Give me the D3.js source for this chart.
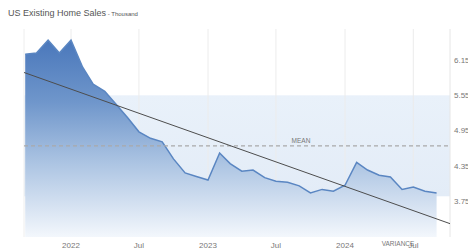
<!DOCTYPE html>
<html>
<head>
<meta charset="utf-8">
<script src="https://cdn.jsdelivr.net/npm/d3@7"></script>
<style>
  body { margin: 0; background: #fff; }
  text { font-family: "Liberation Sans", Arial, sans-serif; }
</style>
</head>
<body>
<div id="chart"></div>
<script>
const width = 468,
      height = 250,
      margin = { top: 29, right: 18, bottom: 13, left: 24 };

// monthly existing home sales (millions, SAAR), Sep 2021 - Sep 2024
const startMonth = '2021-09';
const sales = [
  6.25, 6.27, 6.49, 6.27,
  6.49, 6.03, 5.74, 5.62, 5.40, 5.17, 4.93, 4.82, 4.76, 4.47, 4.23, 4.17,
  4.11, 4.57, 4.39, 4.26, 4.28, 4.15, 4.09, 4.07, 4.01, 3.89, 3.95, 3.92,
  4.02, 4.41, 4.28, 4.19, 4.16, 3.95, 3.99, 3.92, 3.89
];
const yTicks = [3.75, 4.35, 4.95, 5.55, 6.15];
const xTickDates = ['2022-01-01', '2022-07-01', '2023-01-01', '2023-07-01', '2024-01-01', '2024-07-01'];
const xTickLabels = ['2022', 'Jul', '2023', 'Jul', '2024', 'Jul'];

const parse = d3.timeParse('%Y-%m');
const first = parse(startMonth);
const data = sales.map((v, i) => ({ date: d3.timeMonth.offset(first, i), value: v }));

const x = d3.scaleTime()
    .domain([new Date(2022, 0, 1), new Date(2024, 0, 1)])
    .range([71, 345]);
const plotLeft = margin.left, plotRight = width - margin.right;
const plotTop = margin.top, plotBottom = height - margin.bottom;

const y = d3.scaleLinear()
    .domain([3.14, 6.68])
    .range([plotBottom, plotTop]);

const svg = d3.select('#chart').append('svg')
    .attr('width', width)
    .attr('height', height);

const defs = svg.append('defs');
const grad = defs.append('linearGradient')
    .attr('id', 'areaGrad')
    .attr('gradientUnits', 'userSpaceOnUse')
    .attr('x1', 0).attr('x2', 0)
    .attr('y1', plotTop).attr('y2', plotBottom);
grad.append('stop').attr('offset', '0%').attr('stop-color', '#4372b8');
grad.append('stop').attr('offset', '35%').attr('stop-color', '#6f96cb');
grad.append('stop').attr('offset', '65%').attr('stop-color', '#adc5e3');
grad.append('stop').attr('offset', '100%').attr('stop-color', '#f3f7fc');

const bandGrad = defs.append('linearGradient')
    .attr('id', 'bandGrad')
    .attr('x1', 0).attr('x2', 0).attr('y1', 0).attr('y2', 1);
bandGrad.append('stop').attr('offset', '0%').attr('stop-color', '#e9f1fa');
bandGrad.append('stop').attr('offset', '100%').attr('stop-color', '#e3ecf7');

// title
const title = svg.append('text')
    .attr('x', 8).attr('y', 16)
    .attr('fill', '#555')
    .style('font-size', '9px');
title.append('tspan').text('US Existing Home Sales');
title.append('tspan').style('font-size', '6px').text(' - Thousand');

// variance band (mean +/- std)
const mean = d3.mean(sales);
const sd = d3.deviation(sales);
svg.append('rect')
    .attr('x', plotLeft)
    .attr('y', y(mean + sd))
    .attr('width', plotRight - plotLeft)
    .attr('height', y(mean - sd) - y(mean + sd))
    .attr('fill', 'url(#bandGrad)');

// vertical grid
svg.append('g')
    .selectAll('line')
    .data(xTickDates)
    .join('line')
    .attr('x1', d => x(new Date(d))).attr('x2', d => x(new Date(d)))
    .attr('y1', plotTop).attr('y2', plotBottom)
    .attr('stroke', '#ececec')
    .attr('stroke-width', 1);

// plot frame edges
svg.append('line')
    .attr('x1', plotLeft).attr('x2', plotLeft)
    .attr('y1', plotTop).attr('y2', plotBottom)
    .attr('stroke', '#eeeeee');
svg.append('line')
    .attr('x1', plotRight).attr('x2', plotRight)
    .attr('y1', plotTop).attr('y2', plotBottom)
    .attr('stroke', '#e6e6e6');

// area + line
const area = d3.area()
    .x(d => x(d.date))
    .y0(plotBottom)
    .y1(d => y(d.value));
svg.append('path')
    .datum(data)
    .attr('d', area)
    .attr('fill', 'url(#areaGrad)');

svg.append('path')
    .datum(data)
    .attr('d', d3.line().x(d => x(d.date)).y(d => y(d.value)))
    .attr('fill', 'none')
    .attr('stroke', '#5a86c2')
    .attr('stroke-width', 1.5);

// mean line
svg.append('line')
    .attr('x1', plotLeft).attr('x2', plotRight)
    .attr('y1', y(mean)).attr('y2', y(mean))
    .attr('stroke', '#a9a9a9')
    .attr('stroke-width', 1.2)
    .attr('stroke-dasharray', '4,3');
svg.append('text')
    .attr('x', 301).attr('y', y(mean) - 3)
    .attr('text-anchor', 'middle')
    .attr('fill', '#777')
    .style('font-size', '6.5px')
    .text('MEAN');

// linear trend (least squares on time)
const xs = data.map(d => +d.date), ys = data.map(d => d.value);
const mx = d3.mean(xs), my = d3.mean(ys);
const slope = d3.sum(xs, (v, i) => (v - mx) * (ys[i] - my)) / d3.sum(xs, v => (v - mx) ** 2);
const trendAt = t => my + slope * (t - mx);
const t0 = +x.invert(plotLeft), t1 = +x.invert(plotRight);
svg.append('line')
    .attr('x1', plotLeft).attr('y1', y(trendAt(t0)))
    .attr('x2', plotRight).attr('y2', y(trendAt(t1)))
    .attr('stroke', '#4d4d4d')
    .attr('stroke-width', 1);

// right axis labels
svg.append('g')
    .selectAll('text')
    .data(yTicks)
    .join('text')
    .attr('x', plotRight + 4)
    .attr('y', d => y(d))
    .attr('dy', '0.35em')
    .attr('fill', '#777')
    .style('font-size', '8px')
    .text(d => d.toFixed(2));

// bottom axis labels
svg.append('g')
    .selectAll('text')
    .data(xTickDates)
    .join('text')
    .attr('x', d => x(new Date(d)))
    .attr('y', plotBottom + 11)
    .attr('text-anchor', 'middle')
    .attr('fill', '#777')
    .style('font-size', '8px')
    .text((d, i) => xTickLabels[i]);

svg.append('text')
    .attr('x', 398).attr('y', plotBottom + 9)
    .attr('text-anchor', 'middle')
    .attr('fill', '#777')
    .style('font-size', '6.5px')
    .text('VARIANCE');
</script>
</body>
</html>
